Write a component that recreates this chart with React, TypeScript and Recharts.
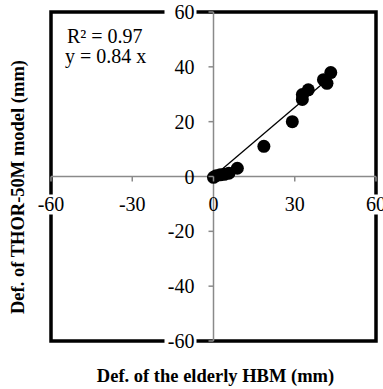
import React from "react"
import { ScatterChart, Scatter, XAxis, YAxis, ReferenceLine, ReferenceArea } from "recharts"

// measured deflections (mm)
const hbmDef = [0, 1, 2.5, 4, 5.7, 8.8, 18.6, 29.1, 32.8, 32.8, 35, 40.6, 41.9, 43.3]
const thorDef = [-0.3, 0.3, 0.6, 0.8, 1.2, 3.0, 11.0, 20.0, 29.9, 28.1, 31.6, 35.3, 34.0, 37.9]

// linear fit through origin, y = 0.84 x, drawn over the data range
const fitX = [0, 43.3]
const fitY = [0, 36.4]

const xTicks = [-60, -30, 0, 30, 60]
const yTicks = [-60, -40, -20, 0, 20, 40, 60]

const W = 383
const H = 389
const LEFT = 51
const RIGHT = 7
const TOP = 12
const BOTTOM = 48
const PW = W - LEFT - RIGHT
const PH = H - TOP - BOTTOM
const ZERO_X = LEFT + PW / 2
const ZERO_Y = TOP + PH / 2

const FONT = "'Liberation Serif', 'Times New Roman', serif"
const AXIS_GRAY = "#8a8a8a"

const points = hbmDef.map((x, i) => ({ x, y: thorDef[i] }))
const fit = fitX.map((x, i) => ({ x, y: fitY[i] }))

const XTick = (props: any) => {
  const { x, payload } = props
  const v = payload.value
  const edge = Math.abs(v) === 60
  return (
    <g>
      <line x1={x} x2={x} y1={ZERO_Y} y2={ZERO_Y + 5} stroke={AXIS_GRAY} strokeWidth={1.5} />
      {edge && <rect x={x - 15} y={ZERO_Y + 18} width={30} height={20} fill="#fff" />}
      <text x={x} y={ZERO_Y + 34} textAnchor="middle" fontFamily={FONT} fontSize={20} fill="#000">
        {v}
      </text>
    </g>
  )
}

const YTick = (props: any) => {
  const { y, payload } = props
  const v = payload.value
  const edge = Math.abs(v) === 60
  return (
    <g>
      <line x1={ZERO_X - 5} x2={ZERO_X} y1={y} y2={y} stroke={AXIS_GRAY} strokeWidth={1.5} />
      {edge && <rect x={ZERO_X - 49} y={y - 9} width={32} height={18} fill="#fff" />}
      <text x={ZERO_X - 19} y={y + 7} textAnchor="end" fontFamily={FONT} fontSize={20} fill="#000">
        {v}
      </text>
    </g>
  )
}

const Dot = (props: any) => <circle cx={props.cx} cy={props.cy} r={6.5} fill="#000" />
const NoDot = () => <g />

export default function App() {
  return (
    <div style={{ position: "absolute", left: 0, top: 0, width: W, height: H, background: "#fff" }}>
      <ScatterChart width={W} height={H} margin={{ left: LEFT - 1, right: RIGHT, top: TOP, bottom: BOTTOM - 1 }}>
        <ReferenceArea
          x1={-60}
          x2={60}
          y1={-60}
          y2={60}
          fill="none"
          stroke="#000"
          strokeWidth={3.5}
          ifOverflow="visible"
        />
        <ReferenceLine x={0} stroke={AXIS_GRAY} strokeWidth={1.5} ifOverflow="visible" />
        <ReferenceLine y={0} stroke={AXIS_GRAY} strokeWidth={1.5} ifOverflow="visible" />
        <XAxis
          type="number"
          dataKey="x"
          domain={[-60, 60]}
          ticks={xTicks}
          interval={0}
          height={1}
          axisLine={false}
          tickLine={false}
          tick={XTick}
          allowDataOverflow
        />
        <YAxis
          type="number"
          dataKey="y"
          domain={[-60, 60]}
          ticks={yTicks}
          interval={0}
          width={1}
          axisLine={false}
          tickLine={false}
          tick={YTick}
          allowDataOverflow
        />
        <Scatter data={fit} line={{ stroke: "#000", strokeWidth: 1.3 }} shape={NoDot} isAnimationActive={false} />
        <Scatter data={points} shape={Dot} isAnimationActive={false} />
      </ScatterChart>
      <div
        style={{
          position: "absolute",
          left: 65,
          top: 26,
          fontFamily: FONT,
          fontSize: 20,
          lineHeight: "20px",
          color: "#000",
        }}
      >
        <div style={{ paddingLeft: 2 }}>R² = 0.97</div>
        <div>y = 0.84 x</div>
      </div>
      <div
        style={{
          position: "absolute",
          left: 0,
          width: 431,
          top: 366,
          textAlign: "center",
          fontFamily: FONT,
          fontWeight: "bold",
          fontSize: 18.5,
          lineHeight: "20px",
        }}
      >
        Def. of the elderly HBM (mm)
      </div>
      <div
        style={{
          position: "absolute",
          left: 18 - 150,
          top: 187 - 10,
          width: 300,
          height: 20,
          transform: "rotate(-90deg)",
          textAlign: "center",
          fontFamily: FONT,
          fontWeight: "bold",
          fontSize: 18.5,
          lineHeight: "20px",
        }}
      >
        Def. of THOR-50M model (mm)
      </div>
    </div>
  )
}
